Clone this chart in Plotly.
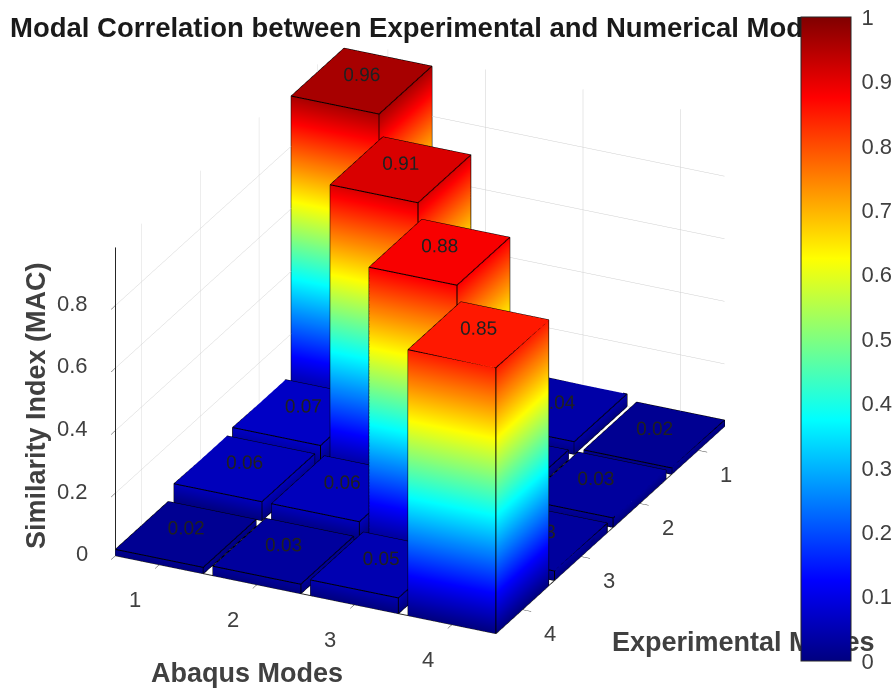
import plotly.graph_objects as go

abaqus_modes = [1, 2, 3, 4]
experimental_modes = [1, 2, 3, 4]
# rows: experimental mode 1..4, columns: Abaqus mode 1..4
mac = [
    [0.96, 0.03, 0.04, 0.02],
    [0.07, 0.91, 0.03, 0.03],
    [0.06, 0.06, 0.88, 0.03],
    [0.02, 0.03, 0.05, 0.85],
]
z_ticks = [0, 0.2, 0.4, 0.6, 0.8]
z_tick_labels = ["0", "0.2", "0.4", "0.6", "0.8"]
cbar_ticks = [0, 0.1, 0.2, 0.3, 0.4, 0.5, 0.6, 0.7, 0.8, 0.9, 1]
jet = [
    [0.0, "rgb(0,0,128)"], [0.125, "rgb(0,0,255)"], [0.375, "rgb(0,255,255)"],
    [0.625, "rgb(255,255,0)"], [0.875, "rgb(255,0,0)"], [1.0, "rgb(128,0,0)"],
]
HALF = 0.45
X_RANGE = [1 - HALF, 4 + HALF]
Y_RANGE = [4 + HALF, 1 - HALF]
TICK_FONT = dict(family="Liberation Sans", size=22, color="#404040")

vx, vy, vz, vi, ti, tj, tk = [], [], [], [], [], [], []
tx, ty, tz, tt = [], [], [], []
edge_traces = []
for r, e in enumerate(experimental_modes):
    for c, a in enumerate(abaqus_modes):
        h = mac[r][c]
        n = len(vx)
        corners = [(a - HALF, e - HALF), (a + HALF, e - HALF), (a + HALF, e + HALF), (a - HALF, e + HALF)]
        for zv in (0, h):
            for (px, py) in corners:
                vx.append(px); vy.append(py); vz.append(zv); vi.append(zv)
        faces = [(0, 1, 2, 3), (4, 5, 6, 7), (0, 1, 5, 4), (1, 2, 6, 5), (2, 3, 7, 6), (3, 0, 4, 7)]
        for f in faces:
            # each quad is covered along both of its diagonals
            ti += [n + f[0], n + f[0], n + f[1], n + f[1]]
            tj += [n + f[1], n + f[2], n + f[2], n + f[3]]
            tk += [n + f[2], n + f[3], n + f[3], n + f[0]]
        # one unbroken path per bar that walks all 12 edges (some twice), with no gaps
        path = [(0, 0), (1, 0), (2, 0), (3, 0), (0, 0), (0, 1), (1, 1), (1, 0), (1, 1),
                (2, 1), (2, 0), (2, 1), (3, 1), (3, 0), (3, 1), (0, 1)]
        edge_traces.append(go.Scatter3d(
            x=[corners[p][0] for p, _ in path],
            y=[corners[p][1] for p, _ in path],
            z=[h * t for _, t in path],
            mode="lines", line=dict(color="black", width=2),
            hoverinfo="skip", showlegend=False))
        tx.append(a); ty.append(e); tz.append(h + 0.022); tt.append(f"{h:.2f}")

bars = go.Mesh3d(
    x=vx, y=vy, z=vz, i=ti, j=tj, k=tk, intensity=vi, intensitymode="vertex",
    colorscale=jet, cmin=0, cmax=1, flatshading=True, hoverinfo="skip",
    lighting=dict(ambient=1, diffuse=0, specular=0, roughness=1, fresnel=0),
    colorbar=dict(
        x=801 / 896, xanchor="left", y=1 - 17 / 689, yanchor="top",
        len=644, lenmode="pixels", thickness=50, thicknessmode="pixels",
        tickvals=cbar_ticks, ticktext=[str(t) for t in cbar_ticks],
        ticks="outside", ticklen=6, tickcolor="rgba(0,0,0,0)", outlinecolor="#262626", outlinewidth=1,
        tickfont=TICK_FONT,
        xpad=0, ypad=0,
    ),
)
labels = go.Scatter3d(x=tx, y=ty, z=tz, mode="text", text=tt, textposition="middle center",
                      textfont=dict(family="Liberation Sans", size=19, color="#202020"),
                      hoverinfo="skip", showlegend=False)

axis_common = dict(
    showbackground=False, showline=True, linecolor="#262626", linewidth=2,
    gridcolor="#cfcfcf", gridwidth=1, zeroline=False, ticks="outside", ticklen=10,
    tickcolor="#262626", tickwidth=1, showspikes=False, title=dict(text=""),
    showticklabels=False,
)

tick_annotations = []
for a in abaqus_modes:
    tick_annotations.append(dict(x=a, y=Y_RANGE[0], z=0, text=str(a), showarrow=False, font=TICK_FONT,
                                 xanchor="center", yanchor="middle", xshift=-24, yshift=-35))
for e in experimental_modes:
    tick_annotations.append(dict(x=X_RANGE[1], y=e, z=0, text=str(e), showarrow=False, font=TICK_FONT,
                                 xanchor="center", yanchor="middle", xshift=28, yshift=-24))
for v, s in zip(z_ticks, z_tick_labels):
    tick_annotations.append(dict(x=X_RANGE[0], y=Y_RANGE[0], z=v, text=s, showarrow=False, font=TICK_FONT,
                                 xanchor="right", yanchor="middle", xshift=-25, yshift=2))

fig = go.Figure([bars] + edge_traces + [labels])
fig.update_layout(
    width=896, height=689, margin=dict(l=0, r=0, t=0, b=0),
    paper_bgcolor="white", showlegend=False,
    title=dict(text="<b>Modal Correlation between Experimental and Numerical Modes</b>",
               x=10 / 896, xanchor="left", y=1 - 27 / 689, yanchor="middle",
               font=dict(family="Liberation Sans", size=27.5, color="#1a1a1a")),
    scene=dict(
        domain=dict(x=[0, 840 / 896], y=[15 / 689, 1]),
        xaxis=dict(axis_common, range=X_RANGE, tickvals=abaqus_modes),
        yaxis=dict(axis_common, range=Y_RANGE, tickvals=experimental_modes),
        zaxis=dict(axis_common, range=[0, 0.985], tickvals=z_ticks),
        aspectmode="manual",
        aspectratio=dict(x=1.25, y=1.58, z=1.013),
        camera=dict(
            projection=dict(type="orthographic"),
            center=dict(x=0, y=0, z=0),
            up=dict(x=0, y=0, z=1),
            eye=dict(x=0.77, y=-1.62, z=0.856),
        ),
        annotations=tick_annotations,
    ),
    annotations=[
        dict(text="<b>Abaqus Modes</b>", x=247 / 896, y=1 - 673 / 689, xref="paper", yref="paper",
             xanchor="center", yanchor="middle",
             showarrow=False, font=dict(family="Liberation Sans", size=27, color="#404040")),
        dict(text="<b>Experimental Modes</b>", x=743 / 896, y=1 - 642 / 689, xref="paper", yref="paper",
             xanchor="center", yanchor="middle",
             showarrow=False, font=dict(family="Liberation Sans", size=27, color="#404040")),
        dict(text="<b>Similarity Index (MAC)</b>", x=36 / 896, y=1 - 406 / 689, xref="paper", yref="paper",
             xanchor="center", yanchor="middle",
             textangle=-90, showarrow=False, font=dict(family="Liberation Sans", size=27, color="#404040")),
    ],
)
raise_colorbar = """
document.body.style.margin = '0';
var raiseCb = function () {
  var layer = document.querySelector('.infolayer');
  var cb = layer && layer.querySelector('.colorbar');
  if (cb) { layer.appendChild(cb); }
};
raiseCb();
setTimeout(raiseCb, 100);
setTimeout(raiseCb, 500);
"""
fig.write_html("out.html", config=dict(displayModeBar=False), post_script=raise_colorbar)
